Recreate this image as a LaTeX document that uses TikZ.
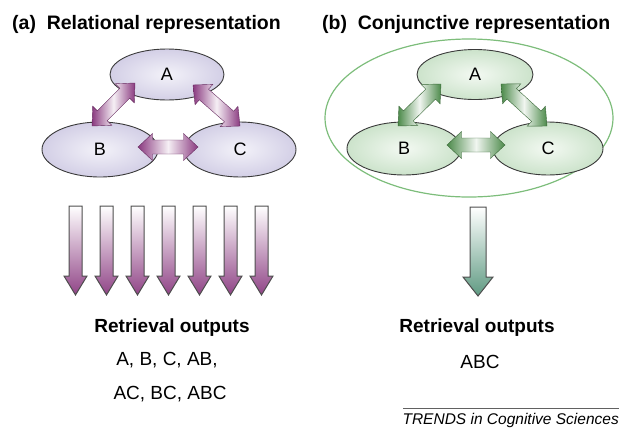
\documentclass[tikz,border=0pt]{standalone}
\usepackage{fontspec}
\setmainfont{Liberation Sans}
\usetikzlibrary{shapes.geometric,calc}

\definecolor{plum}{HTML}{8A3A80}
\definecolor{lavin}{HTML}{F3F2F9}
\definecolor{lavout}{HTML}{D3CFE6}
\definecolor{leaf}{HTML}{4C8A4A}
\definecolor{mintin}{HTML}{F3F9F2}
\definecolor{mintout}{HTML}{CCE3CB}
\definecolor{teal}{HTML}{5F9A82}
\definecolor{rim}{HTML}{7DBD7B}
\definecolor{edge}{HTML}{3A3A3A}

\tikzset{
  title/.style={anchor=base west, inner sep=0pt, font=\fontsize{19.5}{22}\selectfont\bfseries},
  heading/.style={anchor=base, inner sep=0pt, font=\fontsize{19}{22}\selectfont\bfseries},
  output/.style={anchor=base, inner sep=0pt, font=\fontsize{19}{22}\selectfont},
  item/.style={ellipse, draw=edge, line width=0.9pt, inner sep=0pt,
               font=\fontsize{18}{20}\selectfont},
  relitem/.style={item, inner color=lavin, outer color=lavout},
  conitem/.style={item, inner color=mintin, outer color=mintout},
  link/.style={line width=0.4pt, line join=miter},
  rellink/.style={link, draw=plum!75!black, left color=plum, right color=plum, middle color=plum!8},
  conlink/.style={link, draw=leaf!75!black, left color=leaf, right color=leaf, middle color=leaf!8},
  outarrow/.style={draw=edge!90, line width=1pt},
}

% fat two-headed arrow between two named points
\newcommand\linkarrow[3]{%
  \coordinate (la) at ($(#2)!14.5pt!(#3)$);
  \coordinate (lb) at ($(#3)!14.5pt!(#2)$);
  \path[#1] (#2)
    -- ($(la)!13.5pt!90:(#3)$) -- ($(la)!7pt!90:(#3)$)
    -- ($(lb)!7pt!-90:(#2)$) -- ($(lb)!13.5pt!-90:(#2)$)
    -- (#3)
    -- ($(lb)!13.5pt!90:(#2)$) -- ($(lb)!7pt!90:(#2)$)
    -- ($(la)!7pt!-90:(#3)$) -- ($(la)!13.5pt!-90:(#3)$)
    -- cycle;}

% downward output arrow: centre x, top y, shaft half width, head half width
\newcommand\outputarrow[5][]{%
  \path[outarrow, #1]
    (#2-#4,#3) -- (#2+#4,#3) -- (#2+#4,#3+70) -- (#2+#5,#3+70)
    -- (#2,#3+89) -- (#2-#5,#3+70) -- (#2-#4,#3+70) -- cycle;}

\begin{document}
\begin{tikzpicture}[x=1pt,y=-1pt]
\useasboundingbox (0,0) rectangle (619,429);

% ---------- (a) relational ----------
\node[title] (ta) at (12,29) {(a)\hspace{0.55em}Relational representation};

\node[relitem, minimum width=114pt, minimum height=51pt] (rA) at (167,74.5) {A};
\node[relitem, minimum width=116pt, minimum height=55pt] (rB) at (100,149.5) {B};
\node[relitem, minimum width=112pt, minimum height=55pt] (rC) at (240,149.5) {C};

\coordinate (rab1) at (135,83);  \coordinate (rab2) at (92,126);
\coordinate (rac1) at (193,85);  \coordinate (rac2) at (240,126);
\coordinate (rbc1) at (138,147); \coordinate (rbc2) at (198,147);
\linkarrow{rellink}{rab1}{rab2}
\linkarrow{rellink}{rac1}{rac2}
\linkarrow{rellink}{rbc1}{rbc2}

\foreach \k in {0,...,6}{
  \pgfmathsetmacro\cx{75.5+31*\k}
  \outputarrow[top color=white, bottom color=plum!95]{\cx}{206}{6.5}{11.5}
}

\node[heading] (ra) at (172,332) {Retrieval outputs};
\node[output] (r1) at (167,365) {A, B, C, AB,};
\node[output] (r2) at (170,399) {AC, BC, ABC};

% ---------- (b) conjunctive ----------
\node[title] (tb) at (322,29) {(b)\hspace{0.55em}Conjunctive representation};

\node[ellipse, draw=rim, line width=1.2pt, minimum width=288pt, minimum height=158pt] (whole) at (469,118) {};

\node[conitem, minimum width=116pt, minimum height=50pt] (cA) at (475,74.5) {A};
\node[conitem, minimum width=114pt, minimum height=53pt] (cB) at (404,148.5) {B};
\node[conitem, minimum width=110pt, minimum height=53pt] (cC) at (548,148.5) {C};

\coordinate (cab1) at (441,84);  \coordinate (cab2) at (398,126);
\coordinate (cac1) at (501,84);  \coordinate (cac2) at (547,126);
\coordinate (cbc1) at (447,145); \coordinate (cbc2) at (505,145);
\linkarrow{conlink}{cab1}{cab2}
\linkarrow{conlink}{cac1}{cac2}
\linkarrow{conlink}{cbc1}{cbc2}

\outputarrow[top color=white, bottom color=teal]{478}{207}{8}{15}

\node[heading] (ca) at (477,332) {Retrieval outputs};
\node[output] (c1) at (480,368) {ABC};

% ---------- source line ----------
\draw[line width=0.6pt, edge!80] (403,408) -- (619,408);
\node[anchor=base east, inner sep=0pt, font=\fontsize{15.5}{18}\selectfont\itshape] (src) at (619,424) {TRENDS in Cognitive Sciences};
\end{tikzpicture}
\end{document}
